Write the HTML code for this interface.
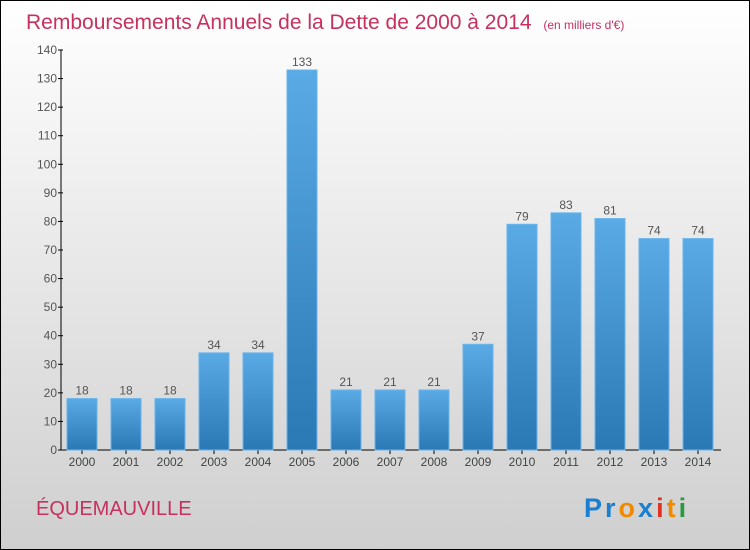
<!DOCTYPE html>
<html><head><meta charset="utf-8"><style>
body{margin:0;width:750px;height:550px;overflow:hidden}
svg{display:block;font-family:"Liberation Sans",sans-serif}
</style></head><body>
<svg id="c" width="750" height="550" xmlns="http://www.w3.org/2000/svg">
<defs>
<linearGradient id="bg" x1="0" y1="0" x2="0" y2="1"><stop offset="0" stop-color="#ffffff"/><stop offset="1" stop-color="#cfcfcf"/></linearGradient>
<linearGradient id="bar" x1="0" y1="0" x2="0" y2="1"><stop offset="0" stop-color="#5aaae6"/><stop offset="1" stop-color="#2a78b4"/></linearGradient>
</defs>
<rect x="0.5" y="0.5" width="749" height="549" fill="url(#bg)" stroke="#000"/>
<text x="26" y="29" font-size="21" fill="#c8305e">Remboursements Annuels de la Dette de 2000 à 2014 <tspan font-size="12" dx="6">(en milliers d'€)</tspan></text>
<g id="axes"></g>
<g id="bars"></g>
<text x="36" y="515" font-size="20" fill="#c8305e">ÉQUEMAUVILLE</text>
<text x="584" y="517" font-size="27" font-weight="bold" letter-spacing="3"><tspan fill="#1a7fd0">Pr</tspan><tspan fill="#f08a00">o</tspan><tspan fill="#1a7fd0">x</tspan><tspan fill="#e03020">i</tspan><tspan fill="#f08a00">t</tspan><tspan fill="#2a9a40">i</tspan></text>
</svg>
<script>
const categories=["2000","2001","2002","2003","2004","2005","2006","2007","2008","2009","2010","2011","2012","2013","2014"];
const values=[18,18,18,34,34,133,21,21,21,37,79,83,81,74,74];
const yTicks=[0,10,20,30,40,50,60,70,80,90,100,110,120,130,140];
const NS="http://www.w3.org/2000/svg";
const y0=450,yTop=50,yMax=140,x0=61,step=44,bw=30;
const y=v=>y0-(v/yMax)*(y0-yTop);
const xc=i=>82+i*step;
function mk(t,a,p){const e=document.createElementNS(NS,t);for(const k in a)e.setAttribute(k,a[k]);p.appendChild(e);return e;}
const ax=document.getElementById('axes'),bs=document.getElementById('bars');
let l=mk('line',{x1:x0,y1:yTop,x2:x0,y2:y0,stroke:'#000'},ax);


l=mk('line',{x1:58,y1:y0,x2:721,y2:y0,stroke:'#000'},ax);


yTicks.forEach(v=>{
 mk('line',{x1:x0-3,y1:y(v),x2:x0+2,y2:y(v),stroke:'#000'},ax);
 const t=mk('text',{x:x0-4,y:y(v)+4,'text-anchor':'end','font-size':12,fill:'#555'},ax);t.textContent=v;
 
 
});
categories.forEach((c,i)=>{
 const v=values[i];
 const r=mk('rect',{x:xc(i)-bw/2,y:y(v),width:bw,height:y0-y(v),fill:'url(#bar)',stroke:'#6ab4ea','stroke-width':1},bs);
 
 
 const t=mk('text',{x:xc(i),y:y(v)-4,'text-anchor':'middle','font-size':12,fill:'#555'},bs);t.textContent=v;
 
 
 mk('line',{x1:xc(i),y1:y0,x2:xc(i),y2:y0+4,stroke:'#000'},ax);
 const xl=mk('text',{x:xc(i),y:y0+16,'text-anchor':'middle','font-size':12,fill:'#444'},ax);xl.textContent=c;
 
 
});
</script>
</body></html>
